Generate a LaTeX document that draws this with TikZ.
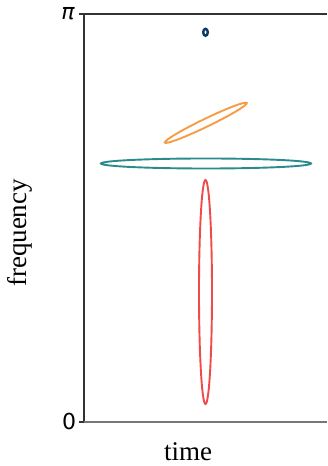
\documentclass[tikz,border=0pt]{standalone}
\usepackage{fontspec}
\setmainfont{Liberation Serif}
\newfontfamily\tickfont{DejaVu Sans}
\usepackage{xcolor}
\definecolor{AxisDark}{HTML}{333333}
\definecolor{AxisGray}{HTML}{777777}
\definecolor{AtomBlue}{HTML}{0E3A66}
\definecolor{AtomOrange}{HTML}{F59C45}
\definecolor{AtomTeal}{HTML}{2A8A8C}
\definecolor{AtomRed}{HTML}{F04A4A}
\tikzset{
	atom/.style={line width=1.9pt},
	ticklabel/.style={font=\tickfont\fontsize{22}{24}\selectfont, text=black},
	axislabel/.style={font=\fontsize{27}{30}\selectfont, text=black}
}

\begin{document}
\begin{tikzpicture}[x=1pt,y=1pt]
	\useasboundingbox (0,0) rectangle (327,466);

	% axes
	\draw[line width=1.1pt, draw=AxisDark] (79,452) -- (84,452) -- (84,44) -- (79,44);
	\draw[line width=1.1pt, draw=AxisDark] (84,452) -- (327,452);
	\draw[line width=1.3pt, draw=AxisGray] (84,44) -- (327,44);

	\node[ticklabel] (pilabel) at (68,452) {\itshape π};
	\node[ticklabel] (zerolabel) at (69,45) {0};
	\node[axislabel, rotate=90] (freqlabel) at (20,233) {frequency};
	\node[axislabel] (timelabel) at (188,14) {time};

	% time-frequency atoms
	\draw[atom, line width=2.4pt, draw=AtomBlue] (205.5,433.7) ellipse [x radius=2.3, y radius=3.5];
	\draw[atom, draw=AtomOrange, rotate around={25.8:(205.8,343.2)}] (205.8,343.2) ellipse [x radius=45.5, y radius=4];
	\draw[atom, draw=AtomTeal] (206,302.5) ellipse [x radius=105, y radius=5];
	\draw[atom, draw=AtomRed] (205.5,174) ellipse [x radius=6.5, y radius=112];
\end{tikzpicture}
\end{document}
